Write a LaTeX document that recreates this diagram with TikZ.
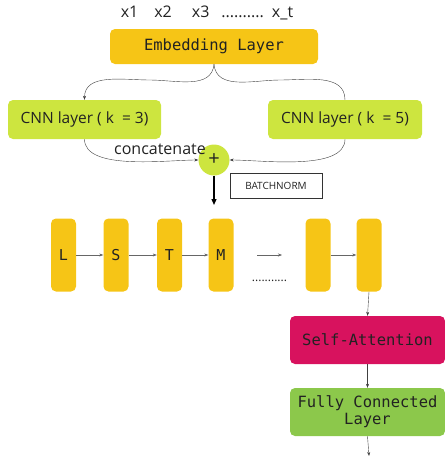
\documentclass[tikz,border=0pt]{standalone}
\usepackage{fontspec}
\setmainfont{Open Sans}
\newfontfamily\codefont{DejaVu Sans Mono}
\usetikzlibrary{arrows.meta}

\definecolor{ambercol}{HTML}{F6C516}
\definecolor{limecol}{HTML}{CDE53F}
\definecolor{magentacol}{HTML}{D8125E}
\definecolor{leafcol}{HTML}{8CC84B}
\definecolor{inkcol}{HTML}{222222}

\tikzset{
  block/.style={rounded corners=5pt, text=inkcol, align=center, inner sep=0pt},
  cell/.style={block, fill=ambercol, minimum width=25pt, minimum height=73pt,
    font=\codefont\fontsize{15}{15}\selectfont},
  thin/.style={draw=black!75, line width=0.4pt},
  tip/.style={-{Stealth[length=4pt,width=3pt]}}
}

\begin{document}
\begin{tikzpicture}[x=1pt,y=-1pt]
  \useasboundingbox (0,0) rectangle (445,456);

  \begin{scope}[every node/.style={block}]
    \node (tokens) at (207,13) [font=\fontsize{16}{16}\selectfont]
      {x1\hspace{16pt}x2\hspace{20pt}x3\hspace{12pt}..........\hspace{8pt}x\_t};
    \node (emb) at (214,46.5) [fill=ambercol, minimum width=208pt, minimum height=35pt,
      font=\codefont\fontsize{15.5}{15.5}\selectfont] {Embedding Layer};
    \node (cnnA) at (84.5,119.5) [fill=limecol, minimum width=153pt, minimum height=39pt,
      font=\fontsize{15.5}{15.5}\selectfont] {CNN layer ( k \ = 3)};
    \node (cnnB) at (345,119.5) [fill=limecol, minimum width=154pt, minimum height=39pt,
      font=\fontsize{15.5}{15.5}\selectfont] {CNN layer ( k \ = 5)};
    \node (plus) at (214,160) [circle, fill=limecol, minimum size=31pt,
      font=\fontsize{20}{20}\selectfont] {+};
    \node (concat) at (160,149) [font=\fontsize{16}{16}\selectfont] {concatenate};
    \node (bn) at (276,185.5) [rounded corners=0pt, draw=black!80, line width=0.9pt,
      minimum width=92pt, minimum height=25pt, font=\fontsize{10}{10}\selectfont] {BATCHNORM};
    \node (att) at (367.5,340) [fill=magentacol, minimum width=155pt, minimum height=48pt,
      font=\codefont\fontsize{15.5}{15.5}\selectfont] {Self-Attention};
    \node (fc) at (367.5,412) [fill=leafcol, minimum width=155pt, minimum height=48pt,
      font=\codefont\fontsize{15.5}{17}\selectfont] {Fully Connected\\Layer};
    \node (dots) at (269.5,281) [font=\fontsize{12}{12}\selectfont] {...........};
  \end{scope}

  \begin{scope}[every node/.style={cell}]
    \node (L) at (63.5,255) {L};
    \node (S) at (116,255) {S};
    \node (T) at (169.5,255) {T};
    \node (M) at (221,255) {M};
    \node (h5) at (318,255) {};
    \node (h6) at (369,255) {};
  \end{scope}

  \coordinate (gapA) at (257,255);
  \coordinate (gapB) at (282,255);
  \coordinate (out) at (369,456);

  % embedding splits to both convolutions
  \draw[thin, tip] (emb.south) to[out=-95,in=0] (150,80) to[out=180,in=90] (cnnA.north);
  \draw[thin] (emb.south) to[out=-85,in=180] (280,80) to[out=0,in=90] (cnnB.north);

  % both convolutions are concatenated
  \draw[thin, tip] (cnnA.south) to[out=-90,in=180,looseness=0.7] (plus.west);
  \draw[thin, tip] (cnnB.south) to[out=-90,in=0,looseness=0.7] (plus.east);

  \draw[line width=1.3pt, -{Triangle[length=6pt,width=5pt]}] (plus.south) -- (214,205);

  % recurrent chain
  \begin{scope}[every path/.style={draw=black!60, line width=0.4pt, tip}]
    \path (L) -- (S);
    \path (S) -- (T);
    \path (T) -- (M);
    \path (gapA) -- (gapB);
    \path (h5) -- (h6);
  \end{scope}

  \draw[thin, tip] (h6.south) -- (att.north);
  \draw[thin, tip] (att.south) -- (fc.north);
  \draw[thin, tip] (fc.south) -- (out);

\end{tikzpicture}
\end{document}
